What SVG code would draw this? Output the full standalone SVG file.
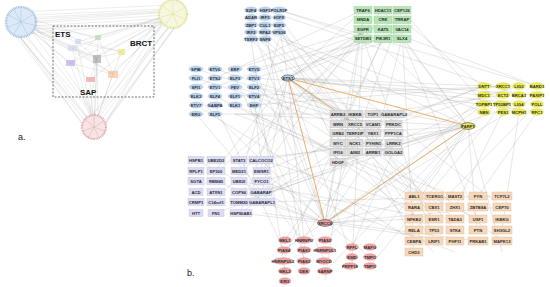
<svg xmlns="http://www.w3.org/2000/svg" width="550" height="287" viewBox="0 0 550 287">
<style>
.t{font-family:"Liberation Sans",Arial,sans-serif;font-size:4.2px;font-weight:bold;text-anchor:middle;fill:#2a2a2a}
.e{fill:none;stroke:#8c8c8c;stroke-width:0.35;opacity:0.6}
.ea{fill:none;stroke:#9a9a9a;stroke-width:0.4;opacity:0.45}
.o{fill:none;stroke:#e5a55a;stroke-width:0.9}
.nb{fill:#bcd3ee;stroke:#9bbbe0;stroke-width:0.4}
.np{fill:#dcdcf4;stroke:#bcbce2;stroke-width:0.4}
.ng{fill:#b8e4b8;stroke:#8fcf8f;stroke-width:0.4}
.ny{fill:#dddddd;stroke:#bdbdbd;stroke-width:0.4}
.nl{fill:#eded52;stroke:#d2d23a;stroke-width:0.4}
.no{fill:#f6d8bb;stroke:#e2b98f;stroke-width:0.4}
.nr{fill:#eca4a4;stroke:#d98080;stroke-width:0.4}
.hub{stroke:#3a3a3a;stroke-width:0.6}
.lab{font-family:"Liberation Sans",Arial,sans-serif;font-weight:bold;fill:#111}
.mini{opacity:0.6}
</style>
<rect width="550" height="287" fill="#ffffff"/>

<!-- Panel a -->
<g id="panel-a">
  <path class="ea" d="M12 16 L166 9 M16 24 L168 15 M22 30 L170 21 M26 18 L176 10 M30 26 L178 18 M18 12 L172 5 M24 34 L166 22 M20 20 L162 12 M28 22 L170 12
  M10 28 L86 128 M16 33 L90 122 M24 35 L96 118 M30 30 L100 122 M34 24 L104 126 M8 20 L82 124 M20 36 L92 130 M26 34 L88 118 M14 30 L98 130
  M164 20 L96 118 M170 24 L100 122 M176 26 L104 126 M180 20 L100 130 M160 16 L88 122 M184 14 L106 120 M168 28 L92 126 M174 22 L90 118 M162 24 L102 130
  M21 22 L77 42 M21 22 L72 48 M21 22 L70 63 M21 22 L97 58 M21 22 L98 37 M21 22 L113 74 M21 22 L90 80 M21 22 L121 52 M30 28 L97 60 M28 18 L98 39 M26 30 L72 50
  M173 14 L77 42 M173 14 L72 48 M173 14 L70 63 M173 14 L97 58 M173 14 L98 37 M173 14 L113 74 M173 14 L90 80 M173 14 L121 52 M166 20 L97 56 M168 22 L113 72
  M94 127 L77 42 M94 127 L72 48 M94 127 L70 63 M94 127 L97 58 M94 127 L98 37 M94 127 L113 74 M94 127 L90 80 M94 127 L121 52 M98 118 L97 60 M90 118 L96 58
  M77 42 L121 52 M72 48 L113 74 M70 63 L98 37 M97 58 L121 52 M97 58 L90 80 M98 37 L113 74 M77 42 L97 58 M70 63 L113 74 M72 48 L97 58"/>
  <g id="a-blue-ring">
    <circle cx="21" cy="22" r="15" fill="#dde9f6" stroke="#9dbfe2" stroke-width="2.4" stroke-dasharray="0.9 0.7"/>
    <path d="M21 22 L21 9 M21 22 L32 15 M21 22 L34 25 M21 22 L27 34 M21 22 L14 34 M21 22 L8 27 M21 22 L9 15 M21 22 L14 10" stroke="#8fb3dc" stroke-width="0.5" opacity="0.7"/>
  </g>
  <g id="a-yellow-ring">
    <circle cx="173" cy="14" r="14" fill="#f7f7e0" stroke="#e0e08a" stroke-width="2.2" stroke-dasharray="0.9 0.7"/>
    <path d="M173 14 L173 2 M173 14 L184 8 M173 14 L185 19 M173 14 L178 26 M173 14 L165 25 M173 14 L161 17 M173 14 L163 6" stroke="#d6d67a" stroke-width="0.5" opacity="0.7"/>
  </g>
  <g id="a-red-ring">
    <circle cx="94" cy="127" r="12" fill="#f7e4e4" stroke="#dfa3a3" stroke-width="2" stroke-dasharray="0.9 0.7"/>
    <path d="M94 127 L94 116 M94 127 L104 121 M94 127 L105 131 M94 127 L99 138 M94 127 L88 138 M94 127 L83 131 M94 127 L85 119" stroke="#d69696" stroke-width="0.5" opacity="0.7"/>
  </g>
  <rect x="53" y="26" width="101" height="71" fill="none" stroke="#333" stroke-width="0.7" stroke-dasharray="2 1.5"/>
  <g id="a-mini" class="mini">
    <rect x="75" y="39" width="6" height="5" fill="#bcd3ee"/>
    <rect x="68" y="45" width="9" height="6" fill="#c9d6ee"/>
    <rect x="66" y="60" width="9" height="6" fill="#a9a3e6"/>
    <rect x="95" y="35" width="6" height="5" fill="#a7dca7"/>
    <rect x="93" y="55" width="8" height="8" fill="#9a9a9a"/>
    <rect x="118" y="49" width="7" height="6" fill="#e6e66a"/>
    <rect x="108" y="71" width="10" height="7" fill="#f1b889"/>
    <rect x="86" y="77" width="9" height="5" fill="#e99393"/>
  </g>
  <text class="lab" x="55" y="37" font-size="8">ETS</text>
  <text class="lab" x="130" y="46" font-size="8">BRCT</text>
  <text class="lab" x="80" y="95" font-size="8">SAP</text>
  <text x="18" y="140" font-family="Liberation Sans,Arial,sans-serif" font-size="9" fill="#222">a.</text>
</g>

<!-- Panel b connectors -->
<g id="connectors">
  <path class="e" d="M288 78 L363 10 M288 78 L383 19 M288 78 L402 29 M288 78 L363 38 M288 78 L484 86 M288 78 L519 104 M288 78 L537 112 M288 78 L338 114 M288 78 L373 133 M288 78 L393 152 M288 78 L414 196 M288 78 L455 219 M288 78 L502 241 M288 78 L433 252 M288 78 L215 171 M288 78 L262 192 M288 78 L240 213 M288 78 L279 25 M288 78 L251 39 M288 78 L305 250 M288 78 L352 257 M288 78 L402 10 M288 78 L537 95"/>
  <path class="e" d="M468 126 L354 133 M468 126 L393 143 M468 126 L338 162 M468 126 L414 207 M468 126 L477 230 M468 126 L502 252 M468 126 L363 29 M468 126 L402 38 M468 126 L283 250 M468 126 L325 271 M468 126 L262 160 M468 126 L240 202 M468 126 L279 39 M468 126 L254 87 M468 126 L235 114 M468 126 L370 247 M468 126 L383 10 M468 126 L262 181"/>
  <path class="e" d="M325 223 L196 160 M325 223 L215 181 M325 223 L262 202 M325 223 L240 213 M325 223 L338 143 M325 223 L393 124 M325 223 L414 219 M325 223 L455 241 M325 223 L433 196 M325 223 L363 19 M325 223 L402 10 M325 223 L251 25 M325 223 L265 39 M325 223 L196 96 M325 223 L254 69 M325 223 L484 104 M325 223 L537 95 M325 223 L502 207"/>
  <path class="e" d="M254 69 L383 38 M254 78 L484 95 M254 87 L354 152 M254 96 L433 230 M254 105 L305 261 M235 114 L455 196 M215 114 L373 114 M196 105 L414 241 M235 96 L519 86 M215 87 L402 19 M196 78 L338 124 M235 69 L363 29 M254 96 L262 171 M196 114 L303 240 M215 69 L354 114 M235 87 L393 133 M254 114 L478 219 M215 96 L434 207 M196 87 L363 10 M235 105 L338 152 M254 78 L402 38 M235 78 L325 261 M215 105 L284 250 M196 69 L373 124 M254 105 L503 86"/>
  <path class="e" d="M279 10 L363 38 M279 17 L414 196 M279 25 L338 152 M265 39 L393 162 M251 39 L285 271 M279 32 L502 207 M265 32 L484 112 M279 39 L240 181 M265 17 L455 230 M251 32 L373 143 M279 10 L537 86 M265 25 L304 261 M279 25 L433 241 M251 17 L354 124 M265 10 L519 95"/>
  <path class="e" d="M363 38 L215 202 M383 38 L283 261 M402 38 L477 219 M363 29 L262 171 M383 29 L537 86 M402 29 L414 252 M383 19 L196 192 M402 19 L503 104 M363 19 L325 281 M383 38 L338 133 M402 38 L373 152 M363 38 L434 241 M402 10 L484 104 M383 10 L239 160 M363 29 L352 266"/>
  <path class="e" d="M262 160 L414 207 M262 171 L484 86 M262 181 L455 252 M262 192 L338 133 M262 202 L502 196 M240 213 L393 114 M262 171 L370 257 M240 160 L393 143 M216 213 L354 162 M262 213 L478 241 M262 192 L519 104 M239 181 L434 219"/>
  <path class="e" d="M484 112 L414 196 M503 112 L455 207 M519 112 L502 230 M484 104 L393 143 M393 162 L433 219 M373 162 L414 241 M354 162 L303 240 M338 162 L285 240 M393 152 L352 247 M484 95 L325 240 M537 112 L478 196 M519 86 L393 124 M503 95 L373 114 M484 86 L355 133 M537 104 L414 230 M503 104 L370 266"/>
  <path class="o" d="M288 78 L468 126 M288 78 L325 223 M325 223 L468 126 M288 78 L355 124"/>
</g>

<!-- Top blue cluster -->
<g id="n-E2F4"><ellipse class="nb" cx="251" cy="10" rx="6.5" ry="3"/><text class="t" x="251" y="11.5">E2F4</text></g>
<g id="n-HSF1"><ellipse class="nb" cx="265" cy="10" rx="6.5" ry="3"/><text class="t" x="265" y="11.5">HSF1</text></g>
<g id="n-POLR3F"><ellipse class="nb" cx="279" cy="10" rx="7.5" ry="3"/><text class="t" x="279" y="11.5">POLR3F</text></g>
<g id="n-ADAR"><ellipse class="nb" cx="251" cy="17.5" rx="6.5" ry="3"/><text class="t" x="251" y="19">ADAR</text></g>
<g id="n-IRF3"><ellipse class="nb" cx="265" cy="17.5" rx="6.5" ry="3"/><text class="t" x="265" y="19">IRF3</text></g>
<g id="n-H1FX"><ellipse class="nb" cx="279" cy="17.5" rx="6.5" ry="3"/><text class="t" x="279" y="19">H1FX</text></g>
<g id="n-ZBP1"><ellipse class="nb" cx="251" cy="25" rx="6.5" ry="3"/><text class="t" x="251" y="26.5">ZBP1</text></g>
<g id="n-CUL1"><ellipse class="nb" cx="265" cy="25" rx="6.5" ry="3"/><text class="t" x="265" y="26.5">CUL1</text></g>
<g id="n-E2F5"><ellipse class="nb" cx="279" cy="25" rx="6.5" ry="3"/><text class="t" x="279" y="26.5">E2F5</text></g>
<g id="n-IRF2"><ellipse class="nb" cx="251" cy="32" rx="6.5" ry="3"/><text class="t" x="251" y="33.5">IRF2</text></g>
<g id="n-RPA2"><ellipse class="nb" cx="265" cy="32" rx="6.5" ry="3"/><text class="t" x="265" y="33.5">RPA2</text></g>
<g id="n-VPS36"><ellipse class="nb" cx="279" cy="32" rx="7" ry="3"/><text class="t" x="279" y="33.5">VPS36</text></g>
<g id="n-TERF2"><ellipse class="nb" cx="251" cy="39" rx="7" ry="3"/><text class="t" x="251" y="40.5">TERF2</text></g>
<g id="n-SNF8"><ellipse class="nb" cx="265" cy="39" rx="6.5" ry="3"/><text class="t" x="265" y="40.5">SNF8</text></g>

<!-- Green cluster -->
<g id="n-TRAF6"><rect class="ng" x="354" y="6.5" width="18" height="7.5"/><text class="t" x="363" y="11.7">TRAF6</text></g>
<g id="n-HDAC11"><rect class="ng" x="374" y="6.5" width="18" height="7.5"/><text class="t" x="383" y="11.7">HDAC11</text></g>
<g id="n-CEP126"><rect class="ng" x="393" y="6.5" width="18" height="7.5"/><text class="t" x="402" y="11.7">CEP126</text></g>
<g id="n-MNDA"><rect class="ng" x="354" y="16" width="18" height="7.5"/><text class="t" x="363" y="21.2">MNDA</text></g>
<g id="n-CRK"><rect class="ng" x="374" y="16" width="18" height="7.5"/><text class="t" x="383" y="21.2">CRK</text></g>
<g id="n-TRRAP"><rect class="ng" x="393" y="16" width="18" height="7.5"/><text class="t" x="402" y="21.2">TRRAP</text></g>
<g id="n-EGFR"><rect class="ng" x="354" y="25.5" width="18" height="7.5"/><text class="t" x="363" y="30.7">EGFR</text></g>
<g id="n-KAT5"><rect class="ng" x="374" y="25.5" width="18" height="7.5"/><text class="t" x="383" y="30.7">KAT5</text></g>
<g id="n-VAC14"><rect class="ng" x="393" y="25.5" width="18" height="7.5"/><text class="t" x="402" y="30.7">VAC14</text></g>
<g id="n-SETDB1"><rect class="ng" x="354" y="35" width="18" height="7.5"/><text class="t" x="363" y="40.2">SETDB1</text></g>
<g id="n-PIK3R1"><rect class="ng" x="374" y="35" width="18" height="7.5"/><text class="t" x="383" y="40.2">PIK3R1</text></g>
<g id="n-SLX4"><rect class="ng" x="393" y="35" width="18" height="7.5"/><text class="t" x="402" y="40.2">SLX4</text></g>

<!-- ETS cluster -->
<g id="n-SPIB"><ellipse class="nb" cx="196" cy="69" rx="7" ry="3"/><text class="t" x="196" y="70.5">SPIB</text></g>
<g id="n-ETV6"><ellipse class="nb" cx="215" cy="69" rx="7" ry="3"/><text class="t" x="215" y="70.5">ETV6</text></g>
<g id="n-ERF"><ellipse class="nb" cx="235" cy="69" rx="7" ry="3"/><text class="t" x="235" y="70.5">ERF</text></g>
<g id="n-ETV5"><ellipse class="nb" cx="254" cy="69" rx="7" ry="3"/><text class="t" x="254" y="70.5">ETV5</text></g>
<g id="n-FLI1"><ellipse class="nb" cx="196" cy="78" rx="7" ry="3"/><text class="t" x="196" y="79.5">FLI1</text></g>
<g id="n-ETS2"><ellipse class="nb" cx="215" cy="78" rx="7" ry="3"/><text class="t" x="215" y="79.5">ETS2</text></g>
<g id="n-ELF3"><ellipse class="nb" cx="235" cy="78" rx="7" ry="3"/><text class="t" x="235" y="79.5">ELF3</text></g>
<g id="n-ETV3"><ellipse class="nb" cx="254" cy="78" rx="7" ry="3"/><text class="t" x="254" y="79.5">ETV3</text></g>
<g id="n-SPI1"><ellipse class="nb" cx="196" cy="87" rx="7" ry="3"/><text class="t" x="196" y="88.5">SPI1</text></g>
<g id="n-ETV1"><ellipse class="nb" cx="215" cy="87" rx="7" ry="3"/><text class="t" x="215" y="88.5">ETV1</text></g>
<g id="n-FEV"><ellipse class="nb" cx="235" cy="87" rx="7" ry="3"/><text class="t" x="235" y="88.5">FEV</text></g>
<g id="n-ELF2"><ellipse class="nb" cx="254" cy="87" rx="7" ry="3"/><text class="t" x="254" y="88.5">ELF2</text></g>
<g id="n-ELK3"><ellipse class="nb" cx="196" cy="96" rx="7" ry="3"/><text class="t" x="196" y="97.5">ELK3</text></g>
<g id="n-ELF4"><ellipse class="nb" cx="215" cy="96" rx="7" ry="3"/><text class="t" x="215" y="97.5">ELF4</text></g>
<g id="n-ELF1"><ellipse class="nb" cx="235" cy="96" rx="7" ry="3"/><text class="t" x="235" y="97.5">ELF1</text></g>
<g id="n-ETV4"><ellipse class="nb" cx="254" cy="96" rx="7" ry="3"/><text class="t" x="254" y="97.5">ETV4</text></g>
<g id="n-ETV7"><ellipse class="nb" cx="196" cy="105" rx="7" ry="3"/><text class="t" x="196" y="106.5">ETV7</text></g>
<g id="n-GABPA"><ellipse class="nb" cx="215" cy="105" rx="7.5" ry="3"/><text class="t" x="215" y="106.5">GABPA</text></g>
<g id="n-ELK1"><ellipse class="nb" cx="235" cy="105" rx="7" ry="3"/><text class="t" x="235" y="106.5">ELK1</text></g>
<g id="n-EHF"><ellipse class="nb" cx="254" cy="105" rx="7" ry="3"/><text class="t" x="254" y="106.5">EHF</text></g>
<g id="n-ERG"><ellipse class="nb" cx="196" cy="114" rx="7" ry="3"/><text class="t" x="196" y="115.5">ERG</text></g>
<g id="n-ELF5"><ellipse class="nb" cx="215" cy="114" rx="7" ry="3"/><text class="t" x="215" y="115.5">ELF5</text></g>
<g id="n-ETS1"><ellipse class="nb hub" cx="288" cy="78" rx="6.5" ry="3"/><text class="t" x="288" y="79.5">ETS1</text></g>

<!-- Purple cluster -->
<g id="n-HSPB1"><rect class="np" x="188" y="156.5" width="16" height="7"/><text class="t" x="196" y="161.5">HSPB1</text></g>
<g id="n-UBE2D2"><rect class="np" x="207" y="156.5" width="18" height="7"/><text class="t" x="216" y="161.5">UBE2D2</text></g>
<g id="n-STAT3"><rect class="np" x="231" y="156.5" width="16" height="7"/><text class="t" x="239" y="161.5">STAT3</text></g>
<g id="n-CALCOCO2"><rect class="np" x="249" y="156.5" width="24" height="7"/><text class="t" x="261" y="161.5">CALCOCO2</text></g>
<g id="n-RPLP1"><rect class="np" x="188" y="167.5" width="16" height="7"/><text class="t" x="196" y="172.5">RPLP1</text></g>
<g id="n-EP300"><rect class="np" x="207" y="167.5" width="18" height="7"/><text class="t" x="216" y="172.5">EP300</text></g>
<g id="n-MED21"><rect class="np" x="231" y="167.5" width="16" height="7"/><text class="t" x="239" y="172.5">MED21</text></g>
<g id="n-EWSR1"><rect class="np" x="253" y="167.5" width="17" height="7"/><text class="t" x="261.5" y="172.5">EWSR1</text></g>
<g id="n-SGTA"><rect class="np" x="188" y="177.5" width="16" height="7"/><text class="t" x="196" y="182.5">SGTA</text></g>
<g id="n-RBM45"><rect class="np" x="207" y="177.5" width="18" height="7"/><text class="t" x="216" y="182.5">RBM45</text></g>
<g id="n-UBE2I"><rect class="np" x="231" y="177.5" width="16" height="7"/><text class="t" x="239" y="182.5">UBE2I</text></g>
<g id="n-FYCO1"><rect class="np" x="253" y="177.5" width="17" height="7"/><text class="t" x="261.5" y="182.5">FYCO1</text></g>
<g id="n-ACD"><rect class="np" x="189" y="188.5" width="14" height="7"/><text class="t" x="196" y="193.5">ACD</text></g>
<g id="n-ATXN1"><rect class="np" x="207" y="188.5" width="18" height="7"/><text class="t" x="216" y="193.5">ATXN1</text></g>
<g id="n-COPS6"><rect class="np" x="231" y="188.5" width="16" height="7"/><text class="t" x="239" y="193.5">COPS6</text></g>
<g id="n-GABARAP"><rect class="np" x="250" y="188.5" width="22" height="7"/><text class="t" x="261" y="193.5">GABARAP</text></g>
<g id="n-CRMP1"><rect class="np" x="188" y="198.5" width="16" height="7"/><text class="t" x="196" y="203.5">CRMP1</text></g>
<g id="n-C14orf1"><rect class="np" x="207" y="198.5" width="18" height="7"/><text class="t" x="216" y="203.5">C14orf1</text></g>
<g id="n-TOMM20"><rect class="np" x="230" y="198.5" width="18" height="7"/><text class="t" x="239" y="203.5">TOMM20</text></g>
<g id="n-GABARAPL1"><rect class="np" x="249" y="198.5" width="26" height="7"/><text class="t" x="262" y="203.5">GABARAPL1</text></g>
<g id="n-HTT"><rect class="np" x="189" y="209.5" width="14" height="7"/><text class="t" x="196" y="214.5">HTT</text></g>
<g id="n-FN1"><rect class="np" x="208" y="209.5" width="16" height="7"/><text class="t" x="216" y="214.5">FN1</text></g>
<g id="n-HSP90AB1"><rect class="np" x="230" y="209.5" width="22" height="7"/><text class="t" x="241" y="214.5">HSP90AB1</text></g>

<!-- Gray cluster -->
<g id="n-ARRB2"><rect class="ny" x="330" y="110.3" width="16" height="7.5"/><text class="t" x="338" y="115.5">ARRB2</text></g>
<g id="n-IKBKB"><rect class="ny" x="347" y="110.3" width="16" height="7.5"/><text class="t" x="355" y="115.5">IKBKB</text></g>
<g id="n-TOP1"><rect class="ny" x="365" y="110.3" width="16" height="7.5"/><text class="t" x="373" y="115.5">TOP1</text></g>
<g id="n-GABARAPL2"><rect class="ny" x="383" y="110.3" width="22" height="7.5"/><text class="t" x="394" y="115.5">GABARAPL2</text></g>
<g id="n-WRN"><rect class="ny" x="330" y="120.3" width="16" height="7.5"/><text class="t" x="338" y="125.5">WRN</text></g>
<g id="n-XRCC5"><rect class="ny" x="347" y="120.3" width="16" height="7.5"/><text class="t" x="355" y="125.5">XRCC5</text></g>
<g id="n-VCAM1"><rect class="ny" x="365" y="120.3" width="16" height="7.5"/><text class="t" x="373" y="125.5">VCAM1</text></g>
<g id="n-PRKDC"><rect class="ny" x="385" y="120.3" width="17" height="7.5"/><text class="t" x="393.5" y="125.5">PRKDC</text></g>
<g id="n-GRB2"><rect class="ny" x="330" y="129.3" width="16" height="7.5"/><text class="t" x="338" y="134.5">GRB2</text></g>
<g id="n-TERF2IP"><rect class="ny" x="346" y="129.3" width="18" height="7.5"/><text class="t" x="355" y="134.5">TERF2IP</text></g>
<g id="n-YBX1"><rect class="ny" x="365" y="129.3" width="16" height="7.5"/><text class="t" x="373" y="134.5">YBX1</text></g>
<g id="n-PPP1CA"><rect class="ny" x="384" y="129.3" width="19" height="7.5"/><text class="t" x="393.5" y="134.5">PPP1CA</text></g>
<g id="n-MYC"><rect class="ny" x="330" y="139.3" width="16" height="7.5"/><text class="t" x="338" y="144.5">MYC</text></g>
<g id="n-NCK1"><rect class="ny" x="347" y="139.3" width="16" height="7.5"/><text class="t" x="355" y="144.5">NCK1</text></g>
<g id="n-PYHIN1"><rect class="ny" x="365" y="139.3" width="17" height="7.5"/><text class="t" x="373.5" y="144.5">PYHIN1</text></g>
<g id="n-LRRK2"><rect class="ny" x="385" y="139.3" width="17" height="7.5"/><text class="t" x="393.5" y="144.5">LRRK2</text></g>
<g id="n-IFI16"><rect class="ny" x="330" y="148.3" width="16" height="7.5"/><text class="t" x="338" y="153.5">IFI16</text></g>
<g id="n-AIM2"><rect class="ny" x="347" y="148.3" width="16" height="7.5"/><text class="t" x="355" y="153.5">AIM2</text></g>
<g id="n-ARRB1"><rect class="ny" x="365" y="148.3" width="16" height="7.5"/><text class="t" x="373" y="153.5">ARRB1</text></g>
<g id="n-GOLGA2"><rect class="ny" x="384" y="148.3" width="19" height="7.5"/><text class="t" x="393.5" y="153.5">GOLGA2</text></g>
<g id="n-HDGF"><rect class="ny" x="330" y="158.3" width="16" height="7.5"/><text class="t" x="338" y="163.5">HDGF</text></g>

<!-- Yellow cluster -->
<g id="n-DNTT"><ellipse class="nl" cx="484" cy="86" rx="7" ry="3.3"/><text class="t" x="484" y="87.5">DNTT</text></g>
<g id="n-XRCC1"><ellipse class="nl" cx="503" cy="86" rx="7.5" ry="3.3"/><text class="t" x="503" y="87.5">XRCC1</text></g>
<g id="n-LIG3"><ellipse class="nl" cx="519" cy="86" rx="6.5" ry="3.3"/><text class="t" x="519" y="87.5">LIG3</text></g>
<g id="n-BARD1"><ellipse class="nl" cx="537" cy="86" rx="7.5" ry="3.3"/><text class="t" x="537" y="87.5">BARD1</text></g>
<g id="n-MDC1"><ellipse class="nl" cx="484" cy="95" rx="7" ry="3.3"/><text class="t" x="484" y="96.5">MDC1</text></g>
<g id="n-ECT2"><ellipse class="nl" cx="503" cy="95" rx="7" ry="3.3"/><text class="t" x="503" y="96.5">ECT2</text></g>
<g id="n-BRCA1"><ellipse class="nl" cx="519" cy="95" rx="7" ry="3.3"/><text class="t" x="519" y="96.5">BRCA1</text></g>
<g id="n-PAXIP1"><ellipse class="nl" cx="537" cy="95" rx="7.5" ry="3.3"/><text class="t" x="537" y="96.5">PAXIP1</text></g>
<g id="n-TOPBP1"><ellipse class="nl" cx="484" cy="104" rx="8" ry="3.3"/><text class="t" x="484" y="105.5">TOPBP1</text></g>
<g id="n-TP53BP1"><ellipse class="nl" cx="502" cy="104" rx="8.5" ry="3.3"/><text class="t" x="502" y="105.5">TP53BP1</text></g>
<g id="n-LIG4"><ellipse class="nl" cx="519" cy="104" rx="6.5" ry="3.3"/><text class="t" x="519" y="105.5">LIG4</text></g>
<g id="n-POLL"><ellipse class="nl" cx="537" cy="104" rx="6.5" ry="3.3"/><text class="t" x="537" y="105.5">POLL</text></g>
<g id="n-NBN"><ellipse class="nl" cx="484" cy="112" rx="6.5" ry="3.3"/><text class="t" x="484" y="113.5">NBN</text></g>
<g id="n-PES1"><ellipse class="nl" cx="503" cy="112" rx="6.5" ry="3.3"/><text class="t" x="503" y="113.5">PES1</text></g>
<g id="n-MCPH1"><ellipse class="nl" cx="519" cy="112" rx="7.5" ry="3.3"/><text class="t" x="519" y="113.5">MCPH1</text></g>
<g id="n-RFC1"><ellipse class="nl" cx="537" cy="112" rx="6.5" ry="3.3"/><text class="t" x="537" y="113.5">RFC1</text></g>
<g id="n-PARP1"><ellipse class="nl hub" cx="468" cy="126" rx="7" ry="3.3"/><text class="t" x="468" y="127.5">PARP1</text></g>

<!-- Orange cluster -->
<g id="n-ABL1"><rect class="no" x="405" y="192" width="18" height="8"/><text class="t" x="414" y="197.5">ABL1</text></g>
<g id="n-TCERG1"><rect class="no" x="425" y="192" width="19" height="8"/><text class="t" x="434.5" y="197.5">TCERG1</text></g>
<g id="n-MAST2"><rect class="no" x="446" y="192" width="18" height="8"/><text class="t" x="455" y="197.5">MAST2</text></g>
<g id="n-FYN"><rect class="no" x="469" y="192" width="18" height="8"/><text class="t" x="478" y="197.5">FYN</text></g>
<g id="n-TCF7L2"><rect class="no" x="492" y="192" width="20" height="8"/><text class="t" x="502" y="197.5">TCF7L2</text></g>
<g id="n-RARA"><rect class="no" x="405" y="203" width="18" height="8"/><text class="t" x="414" y="208.5">RARA</text></g>
<g id="n-CBX1"><rect class="no" x="425" y="203" width="18" height="8"/><text class="t" x="434" y="208.5">CBX1</text></g>
<g id="n-ZHX1"><rect class="no" x="446" y="203" width="18" height="8"/><text class="t" x="455" y="208.5">ZHX1</text></g>
<g id="n-ZBTB8A"><rect class="no" x="468" y="203" width="20" height="8"/><text class="t" x="478" y="208.5">ZBTB8A</text></g>
<g id="n-CEP70"><rect class="no" x="493" y="203" width="18" height="8"/><text class="t" x="502" y="208.5">CEP70</text></g>
<g id="n-NFKB2"><rect class="no" x="405" y="215" width="18" height="8"/><text class="t" x="414" y="220.5">NFKB2</text></g>
<g id="n-ESR1"><rect class="no" x="425" y="215" width="18" height="8"/><text class="t" x="434" y="220.5">ESR1</text></g>
<g id="n-TADA3"><rect class="no" x="446" y="215" width="18" height="8"/><text class="t" x="455" y="220.5">TADA3</text></g>
<g id="n-USF1"><rect class="no" x="469" y="215" width="18" height="8"/><text class="t" x="478" y="220.5">USF1</text></g>
<g id="n-IKBKG"><rect class="no" x="493" y="215" width="18" height="8"/><text class="t" x="502" y="220.5">IKBKG</text></g>
<g id="n-RELA"><rect class="no" x="405" y="226" width="18" height="8"/><text class="t" x="414" y="231.5">RELA</text></g>
<g id="n-TP53"><rect class="no" x="425" y="226" width="18" height="8"/><text class="t" x="434" y="231.5">TP53</text></g>
<g id="n-STK4"><rect class="no" x="446" y="226" width="18" height="8"/><text class="t" x="455" y="231.5">STK4</text></g>
<g id="n-PTN"><rect class="no" x="469" y="226" width="18" height="8"/><text class="t" x="478" y="231.5">PTN</text></g>
<g id="n-SH3GL2"><rect class="no" x="492" y="226" width="20" height="8"/><text class="t" x="502" y="231.5">SH3GL2</text></g>
<g id="n-CEBPA"><rect class="no" x="405" y="237" width="18" height="8"/><text class="t" x="414" y="242.5">CEBPA</text></g>
<g id="n-LRIF1"><rect class="no" x="425" y="237" width="18" height="8"/><text class="t" x="434" y="242.5">LRIF1</text></g>
<g id="n-PHF11"><rect class="no" x="446" y="237" width="18" height="8"/><text class="t" x="455" y="242.5">PHF11</text></g>
<g id="n-PRKAB1"><rect class="no" x="468" y="237" width="20" height="8"/><text class="t" x="478" y="242.5">PRKAB1</text></g>
<g id="n-MAPK13"><rect class="no" x="492" y="237" width="20" height="8"/><text class="t" x="502" y="242.5">MAPK13</text></g>
<g id="n-CHD3"><rect class="no" x="405" y="248" width="18" height="8"/><text class="t" x="414" y="253.5">CHD3</text></g>

<!-- Red cluster -->
<g id="n-XRCC6"><ellipse class="nr hub" cx="325" cy="223" rx="7.5" ry="3.3"/><text class="t" x="325" y="224.5">XRCC6</text></g>
<g id="n-MKL1"><ellipse class="nr" cx="285" cy="240" rx="6.5" ry="3.3"/><text class="t" x="285" y="241.5">MKL1</text></g>
<g id="n-HNRNPU"><ellipse class="nr" cx="304" cy="240" rx="8" ry="3.3"/><text class="t" x="304" y="241.5">HNRNPU</text></g>
<g id="n-PIAS2"><ellipse class="nr" cx="325" cy="240" rx="7" ry="3.3"/><text class="t" x="325" y="241.5">PIAS2</text></g>
<g id="n-PIAS4"><ellipse class="nr" cx="284" cy="250" rx="7" ry="3.3"/><text class="t" x="284" y="251.5">PIAS4</text></g>
<g id="n-PIAS1"><ellipse class="nr" cx="304" cy="250" rx="7" ry="3.3"/><text class="t" x="304" y="251.5">PIAS1</text></g>
<g id="n-HNRNPUL1"><ellipse class="nr" cx="325" cy="250" rx="10" ry="3.3"/><text class="t" x="325" y="251.5">HNRNPUL1</text></g>
<g id="n-HNRNPUL2"><ellipse class="nr" cx="283" cy="261" rx="10" ry="3.3"/><text class="t" x="283" y="262.5">HNRNPUL2</text></g>
<g id="n-PIAS3"><ellipse class="nr" cx="304" cy="261" rx="7" ry="3.3"/><text class="t" x="304" y="262.5">PIAS3</text></g>
<g id="n-MYOCD"><ellipse class="nr" cx="324" cy="261" rx="7.5" ry="3.3"/><text class="t" x="324" y="262.5">MYOCD</text></g>
<g id="n-MKL2"><ellipse class="nr" cx="285" cy="271" rx="6.5" ry="3.3"/><text class="t" x="285" y="272.5">MKL2</text></g>
<g id="n-DEK"><ellipse class="nr" cx="304" cy="271" rx="6" ry="3.3"/><text class="t" x="304" y="272.5">DEK</text></g>
<g id="n-SARNP"><ellipse class="nr" cx="325" cy="271" rx="7.5" ry="3.3"/><text class="t" x="325" y="272.5">SARNP</text></g>
<g id="n-ERI1"><ellipse class="nr" cx="285" cy="281" rx="6" ry="3.3"/><text class="t" x="285" y="282.5">ERI1</text></g>
<g id="n-RFFL"><ellipse class="nr" cx="352" cy="247" rx="6.5" ry="3.3"/><text class="t" x="352" y="248.5">RFFL</text></g>
<g id="n-MAFG"><ellipse class="nr" cx="370" cy="247" rx="6.5" ry="3.3"/><text class="t" x="370" y="248.5">MAFG</text></g>
<g id="n-EMD"><ellipse class="nr" cx="352" cy="257" rx="6" ry="3.3"/><text class="t" x="352" y="258.5">EMD</text></g>
<g id="n-TMPO"><ellipse class="nr" cx="370" cy="257" rx="6.5" ry="3.3"/><text class="t" x="370" y="258.5">TMPO</text></g>
<g id="n-PRPF18"><ellipse class="nr" cx="350" cy="266" rx="7.5" ry="3.3"/><text class="t" x="350" y="267.5">PRPF18</text></g>
<g id="n-TMPO-2"><ellipse class="nr" cx="370" cy="266" rx="6.5" ry="3.3"/><text class="t" x="370" y="267.5">TMPO</text></g>

<text x="187" y="276" font-family="Liberation Sans,Arial,sans-serif" font-size="9" fill="#222">b.</text>
</svg>
